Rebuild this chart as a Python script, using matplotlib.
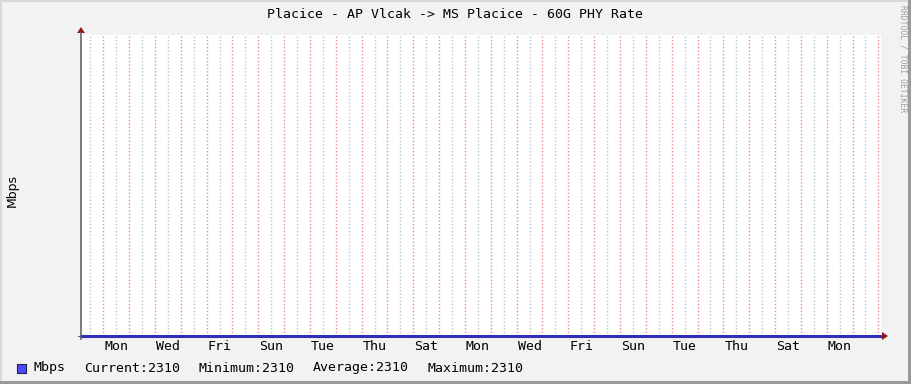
import matplotlib
matplotlib.use("Agg")
import matplotlib.pyplot as plt
from matplotlib.patches import Rectangle, Polygon

W, H = 911, 384

# data (x in days, day 0 = midnight before the first Monday)
days = [-0.86, 30.1]
mbps = [2310, 2310]
day_names = ["Mon", "Tue", "Wed", "Thu", "Fri", "Sat", "Sun"]
label_days = list(range(0, 30, 2))
legend_items = ["Current:2310", "Minimum:2310", "Average:2310", "Maximum:2310"]
title = "Placice - AP Vlcak -> MS Placice - 60G PHY Rate"

MONO = "DejaVu Sans Mono"


def fx(px):
    return px / W


def fy(py):
    return 1 - py / H


fig = plt.figure(figsize=(W / 100, H / 100), dpi=100, facecolor="#f2f2f2")

# rrdtool style frame shading
fig.patches.append(Rectangle((fx(0), fy(2)), 1, 2 / H, transform=fig.transFigure,
                             facecolor="#d8d8d8", edgecolor="none"))
fig.patches.append(Rectangle((0, 0), 2 / W, 1, transform=fig.transFigure,
                             facecolor="#d8d8d8", edgecolor="none"))
fig.patches.append(Rectangle((fx(W - 3), 0), 3 / W, 1, transform=fig.transFigure,
                             facecolor="#9a9a9a", edgecolor="none"))
fig.patches.append(Rectangle((0, 0), 1, 3 / H, transform=fig.transFigure,
                             facecolor="#9a9a9a", edgecolor="none"))

x0, x1 = 81, 881
y0, y1 = 35, 336
ax = fig.add_axes([fx(x0), fy(y1), (x1 - x0) / W, (y1 - y0) / H])
ax.set_facecolor("white")
ax.set_xlim(days[0], days[1])
ax.set_ylim(2310, 2311)

# grid: gray every 12 hours, red every day
for d in range(-1, 31):
    half = d + 0.5
    if days[0] < half < days[1]:
        ax.axvline(half, color="#c4c4c4", lw=1.0, ls=(0, (1, 1.5)), zorder=1)
    if days[0] < d < days[1]:
        ax.axvline(d, color="#f08a8a", lw=1.0, ls=(0, (1, 1.5)), zorder=1)

ax.plot(days, mbps, color="#2f2fb8", lw=2.2, zorder=3, clip_on=False)

for s in ax.spines.values():
    s.set_visible(False)
ax.set_yticks([])
ax.set_xticks([d + 0.5 for d in label_days])
ax.set_xticklabels([day_names[d % 7] for d in label_days],
                   family=MONO, fontsize=9.5, color="black")
ax.tick_params(axis="x", length=0, pad=3)

# axes lines with arrows
fig.add_artist(plt.Line2D([fx(x0), fx(x0)], [fy(y1 + 3), fy(y0 - 2)],
                          transform=fig.transFigure, color="#666666", lw=1.2))
fig.add_artist(plt.Line2D([fx(x0 - 3), fx(x1 + 2)], [fy(y1), fy(y1)],
                          transform=fig.transFigure, color="#666666", lw=0.8, zorder=0))
fig.add_artist(Polygon([(fx(x0 - 4), fy(y0 - 2)), (fx(x0 + 4), fy(y0 - 2)), (fx(x0), fy(y0 - 8))],
                       closed=True, transform=fig.transFigure, facecolor="#8b1a1a", edgecolor="none"))
fig.add_artist(Polygon([(fx(x1 + 1), fy(y1 - 4)), (fx(x1 + 1), fy(y1 + 4)), (fx(x1 + 7), fy(y1))],
                       closed=True, transform=fig.transFigure, facecolor="#8b1a1a", edgecolor="none"))

# texts
fig.text(fx(455), fy(14), title, family=MONO, fontsize=9.5, ha="center", va="center")
fig.text(fx(12), fy(190), "Mbps", family="DejaVu Sans", fontsize=9, rotation=90,
         ha="center", va="center")
fig.text(fx(903), fy(5), "RRDTOOL / TOBI OETIKER", family=MONO, fontsize=5.8,
         rotation=-90, ha="center", va="top", color="#a0a0a0")

# legend
fig.patches.append(Rectangle((fx(17), fy(373)), 9 / W, 9 / H, transform=fig.transFigure,
                             facecolor="#4a4aff", edgecolor="#222244", lw=0.8))
fig.text(fx(34), fy(368), "Mbps", family=MONO, fontsize=9.5, va="center")
for i, item in enumerate(legend_items):
    fig.text(fx(84.5 + i * 114.3), fy(368), item, family=MONO, fontsize=9.5, va="center")

fig.savefig("out.png", dpi=100, facecolor=fig.get_facecolor())
